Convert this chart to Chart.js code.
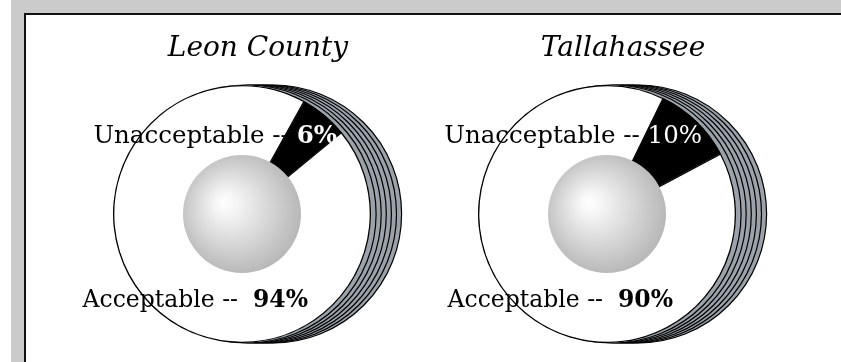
<!DOCTYPE html>
<html>
<head>
<meta charset="utf-8">
<script src="https://cdn.jsdelivr.net/npm/chart.js@4.4.1/dist/chart.umd.min.js"></script>
<style>
  html, body { margin: 0; padding: 0; background: #fff; }
  body { width: 841px; height: 362px; position: relative; overflow: hidden; }
  #frame { position: absolute; left: 11px; top: 0; right: 0; bottom: 0; background: #cbcbcb; }
  #panel { position: absolute; left: 24px; top: 13px; width: 840px; height: 360px;
           background: #fff; border-left: 2px solid #111; border-top: 2px solid #111; }
  canvas { position: absolute; }
  #leonChart { left: 30px; top: 16px; }
  #tallyChart { left: 425px; top: 16px; }
</style>
</head>
<body>
<div id="frame"></div>
<div id="panel"></div>
<canvas id="leonChart" width="395" height="346"></canvas>
<canvas id="tallyChart" width="416" height="346"></canvas>
<script>
// survey results
var places = ['Leon County', 'Tallahassee'];
var categories = ['Unacceptable', 'Acceptable'];
var leonValues = [6, 94];
var tallyValues = [10, 90];

var SERIF = '"DejaVu Serif", "Liberation Serif", serif';
var TOP_PX = '24.5px ';
var LOW_PX = '23.5px ';

// coin look: stacked edge behind the face, shaded ball in the hole, labels on top
var coinPlugin = {
    id: 'coin',
    beforeDatasetsDraw: function(chart) {
        var arc = chart.getDatasetMeta(0).data[0];
        var ctx = chart.ctx;
        ctx.save();
        for (var k = 6; k >= 1; k--) {
            ctx.beginPath();
            ctx.arc(arc.x + k * 5.1, arc.y, arc.outerRadius, 0, Math.PI * 2);
            ctx.fillStyle = '#9ba2aa';
            ctx.fill();
            ctx.lineWidth = 1.2;
            ctx.strokeStyle = '#000';
            ctx.stroke();
        }
        ctx.restore();
    },
    afterDatasetsDraw: function(chart) {
        var arc = chart.getDatasetMeta(0).data[0];
        var ctx = chart.ctx;
        var r = arc.innerRadius + 3;
        ctx.save();
        var g = ctx.createRadialGradient(arc.x - 19, arc.y - 12, 0, arc.x - 4, arc.y - 3, r + 4);
        g.addColorStop(0, '#ffffff');
        g.addColorStop(0.18, '#f5f5f5');
        g.addColorStop(1, '#b8b8b8');
        ctx.beginPath();
        ctx.arc(arc.x, arc.y, r, 0, Math.PI * 2);
        ctx.fillStyle = g;
        ctx.fill();
        ctx.restore();
    },
    afterDraw: function(chart) {
        var arc = chart.getDatasetMeta(0).data[0];
        var vals = chart.data.datasets[0].data;
        var opts = chart.options.plugins.coin;
        var ctx = chart.ctx;
        var cx = arc.x, cy = arc.y;
        ctx.save();
        ctx.textBaseline = 'alphabetic';

        // title
        ctx.font = 'italic 28px ' + SERIF;
        ctx.fillStyle = '#000';
        ctx.textAlign = 'center';
        ctx.fillText(opts.title, cx + 16, cy - 158);

        // unacceptable label, value sits on the black slice
        ctx.textAlign = 'right';
        var txt = vals[0] + '%';
        ctx.font = (opts.boldSmall ? 'bold ' : '') + TOP_PX + SERIF;
        var w = ctx.measureText(txt).width;
        ctx.fillStyle = '#fff';
        ctx.fillText(txt, cx + 95, cy - 71);
        ctx.font = TOP_PX + SERIF;
        ctx.fillStyle = '#000';
        ctx.fillText(chart.data.labels[0] + ' -- ', cx + 95 - w, cy - 71);

        // acceptable label
        txt = vals[1] + '%';
        ctx.font = 'bold ' + LOW_PX + SERIF;
        w = ctx.measureText(txt).width;
        ctx.fillText(txt, cx + 66, cy + 93);
        ctx.font = LOW_PX + SERIF;
        ctx.fillText(chart.data.labels[1] + ' --  ', cx + 66 - w, cy + 93);
        ctx.restore();
    }
};

function makeCoin(id, title, values, rotation, padding, boldSmall) {
    var ctx = document.getElementById(id).getContext('2d');
    return new Chart(ctx, {
        type: 'doughnut',
        data: {
            labels: categories,
            datasets: [{
                data: values,
                backgroundColor: ['#000000', '#ffffff'],
                borderColor: '#000000',
                borderWidth: 1,
                borderAlign: 'inner'
            }]
        },
        options: {
            responsive: false,
            animation: false,
            events: [],
            rotation: rotation,
            radius: 129,
            cutout: 56,
            layout: { padding: padding },
            plugins: {
                legend: { display: false },
                tooltip: { enabled: false },
                coin: { title: title, boldSmall: boldSmall }
            }
        },
        plugins: [coinPlugin]
    });
}

makeCoin('leonChart', places[0], leonValues, 29, { left: 83, right: 54, top: 69, bottom: 19 }, true);
makeCoin('tallyChart', places[1], tallyValues, 26, { left: 53, right: 105, top: 69, bottom: 19 }, false);
</script>
</body>
</html>
